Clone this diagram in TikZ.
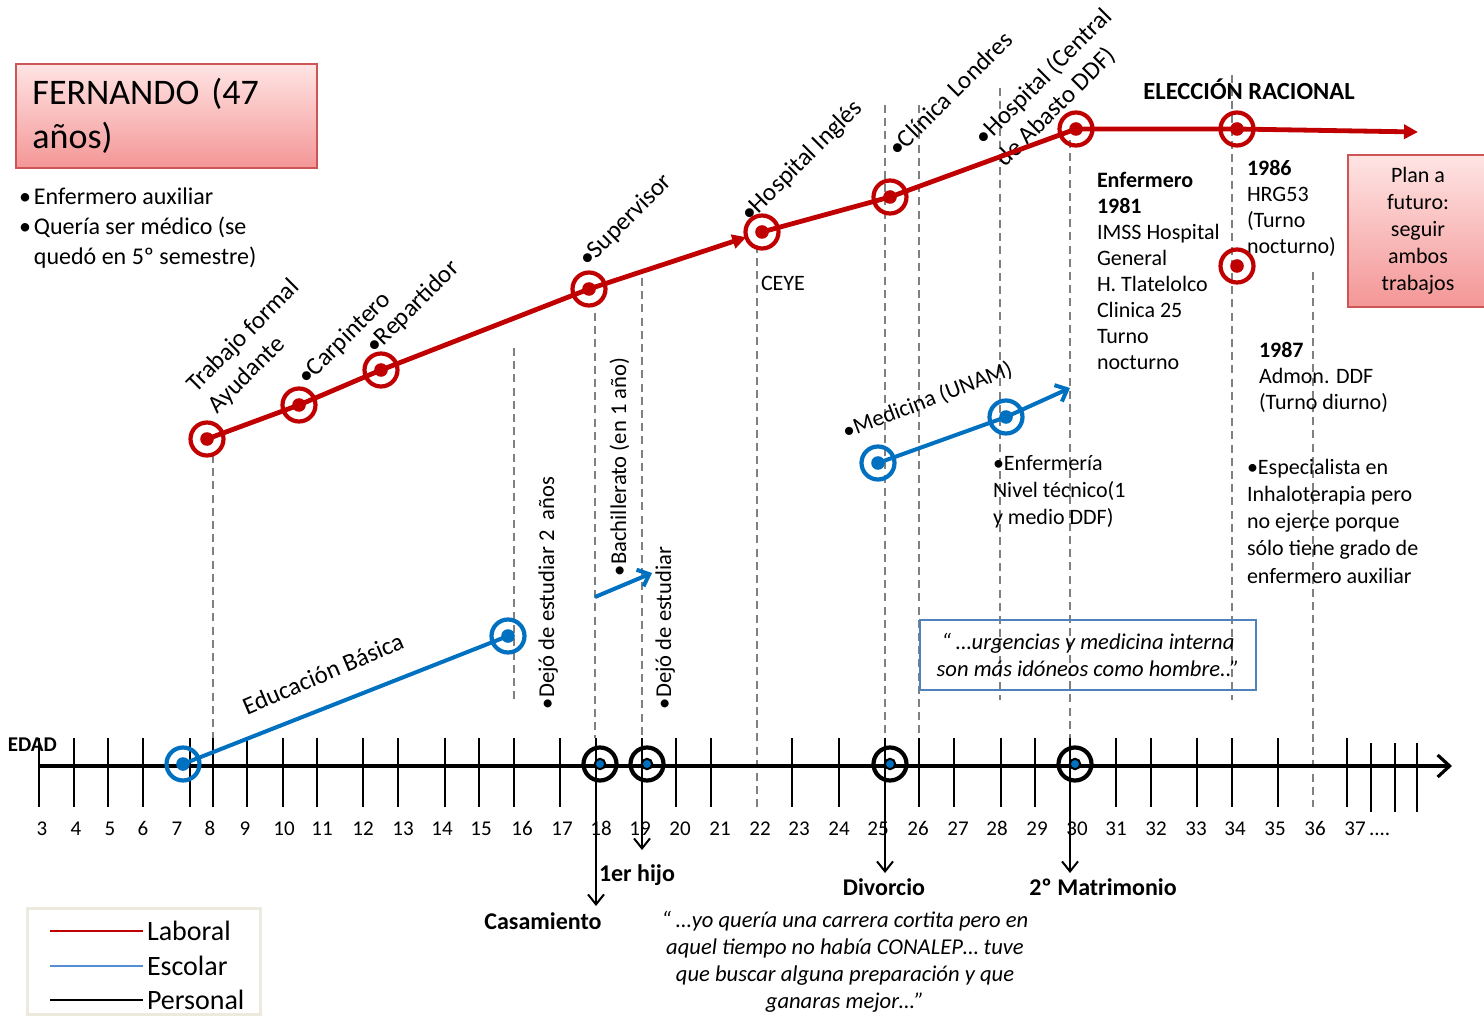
\documentclass[tikz,border=0pt]{standalone}
\usepackage{fontspec}
\setmainfont{Carlito}
\usetikzlibrary{arrows.meta}
\definecolor{lab}{RGB}{192,0,0}
\definecolor{esc}{RGB}{0,112,192}
\definecolor{escleg}{RGB}{85,142,213}
\definecolor{guidegray}{RGB}{128,128,128}
\definecolor{pinktop}{RGB}{255,228,228}
\definecolor{pinkbot}{RGB}{244,150,150}
\definecolor{pinkedge}{RGB}{205,85,85}
\definecolor{quoteedge}{RGB}{79,129,189}
\definecolor{legedge}{RGB}{236,234,222}
\newcommand\fsz[2]{\fontsize{#1}{#2}\selectfont}

\begin{document}
\begin{tikzpicture}[x=0.5pt,y=-0.5pt,
  every node/.style={inner sep=0pt,outer sep=0pt},
  guide/.style={draw=guidegray,line width=0.8pt,dash pattern=on 4pt off 2.6pt},
  tickline/.style={draw=black,line width=1pt},
  ring/.style={circle,line width=2.1pt,minimum size=16.5pt},
  redring/.style={ring,draw=lab,path picture={\fill[lab] (path picture bounding box.center) circle (3.4pt);}},
  bluering/.style={ring,draw=esc,path picture={\fill[esc] (path picture bounding box.center) circle (3.4pt);}},
  persring/.style={ring,draw=black,path picture={\filldraw[fill=esc,draw=black,line width=1pt] (path picture bounding box.center) circle (2.6pt);}},
  redline/.style={draw=lab,line width=2.4pt},
  blueline/.style={draw=esc,line width=2pt},
  redtip/.style={-{Triangle[length=7pt,width=7pt]}},
  bluetip/.style={-{Straight Barb[length=5pt,width=9pt]}},
  downtip/.style={-{Straight Barb[length=5pt,width=8pt]}},
  tlabel/.style={font=\fsz{12.5}{15}},
  vlabel/.style={font=\fsz{11.3}{14},rotate=90,anchor=base west},
  body/.style={font=\fsz{11}{13},align=left},
  boldlab/.style={font=\fsz{12}{14}\bfseries},
  axnum/.style={font=\fsz{10.5}{12},anchor=base},
  pinkbox/.style={draw=pinkedge,line width=0.8pt,top color=pinktop,bottom color=pinkbot},
]
\useasboundingbox (0,0) rectangle (1484,1016);
\fill[white] (0,0) rectangle (1484,1016);

% dashed guide lines
\foreach \gx/\gtop/\gbot in {213/455/738,514/348/700,595/313/738,642/278/738,757/245/807,885/105/738,919/105/738,1000/88/700,1070/140/738,1232/75/700,1313/272/807}
  \draw[guide] (\gx,\gtop) -- (\gx,\gbot);

% age axis
\coordinate (ax0) at (39,766);
\coordinate (ax1) at (1452,766);
\draw[line width=1.6pt,-{Straight Barb[length=6pt,width=11pt]}] (ax0) -- (ax1);
\foreach \tx in {39,74,108,143,190,213,247,283,317,363,398,445,479,514,560,676,711,792,839,919,954,1001,1035,1116,1151,1197,1232,1278,1347}
  \draw[tickline] (\tx,738) -- (\tx,807);
\foreach \tx in {1371,1395,1417}
  \draw[tickline] (\tx,743) -- (\tx,812);
\foreach \n/\xx in {3/42,4/76,5/110,6/143,7/177,8/210,9/245,10/284,11/322,12/363,13/403,14/442,15/481,16/522,17/562,18/601,19/640,20/680,21/720,22/760,23/799,24/839,25/878,26/918,27/958,28/997,29/1037,30/1077,31/1116,32/1156,33/1196,34/1235,35/1275,36/1315,37/1355}
  \node[axnum] (n\n) at (\xx,835) {\n};
\node[font=\fsz{10.5}{12},anchor=base west] (ndots) at (1369,835) {....};
\node[font=\fsz{10.5}{12}\bfseries,anchor=west] (edad) at (8,745) {EDAD};

% personal events
\coordinate (d1a) at (596,738); \coordinate (d1b) at (596,906);
\coordinate (d2a) at (642,738); \coordinate (d2b) at (642,850);
\coordinate (d3a) at (885,738); \coordinate (d3b) at (885,873);
\coordinate (d4a) at (1070,738); \coordinate (d4b) at (1070,873);
\draw[line width=1pt,downtip] (d1a) -- (d1b);
\draw[line width=1pt,downtip] (d2a) -- (d2b);
\draw[line width=1pt,downtip] (d3a) -- (d3b);
\draw[line width=1pt,downtip] (d4a) -- (d4b);
\node[boldlab] (lhijo) at (637,875) {1er hijo};
\node[boldlab] (lcas) at (543,921) {Casamiento};
\node[boldlab] (ldiv) at (884,887) {Divorcio};
\node[boldlab] (lmat) at (1103,887) {2º Matrimonio};
\node[persring] (p1) at (600,764) {};
\node[persring] (p2) at (647,764) {};
\node[persring] (p3) at (890,764) {};
\node[persring] (p4) at (1075,764) {};

% title and summary
\node[pinkbox,anchor=north west,minimum width=150.5pt,minimum height=52pt,text width=134pt,inner xsep=8pt,align=left,font=\fsz{18}{22}] (title) at (16,64) {FERNANDO (47\\años)};
\node[anchor=north west,font=\fsz{12}{15}] (facts) at (19,184) {\begin{tabular}{@{}l@{\hspace{1.5pt}}l@{}}•&Enfermero auxiliar\\•&Quería ser médico (se\\&quedó en 5º semestre)\end{tabular}};

% work labels
\node[tlabel,rotate=45,anchor=west,align=left] (lTrab) at (202,399) {Trabajo formal\\Ayudante};
\node[tlabel,rotate=45,anchor=base west] (lCarp) at (307,386) {•Carpintero};
\node[tlabel,rotate=45,anchor=base west] (lRep) at (375,355) {•Repartidor};
\node[tlabel,rotate=45,anchor=base west] (lSup) at (588,268) {•Supervisor};
\node[tlabel,rotate=45,anchor=base west] (lHing) at (750,223) {•Hospital Inglés};
\node[tlabel,rotate=45,anchor=base west] (lClin) at (898,158) {•Clínica Londres};
\node[tlabel,rotate=45,anchor=west,align=left] (lHcen) at (990,152) {•Hospital (Central\\de Abasto DDF)};
\node[body,anchor=west] (tceye) at (761,283) {CEYE};
\node[font=\fsz{12.3}{14}\bfseries] (elec) at (1249,89) {ELECCIÓN RACIONAL};
\node[body,anchor=north west] (t1981) at (1097,172) {\textbf{Enfermero}\\\textbf{1981}\\IMSS Hospital\\General\\H. Tlatelolco\\Clinica 25\\Turno\\nocturno};
\node[body,anchor=north west] (t1986) at (1247,160) {\textbf{1986}\\HRG53\\(Turno\\nocturno)};
\node[body,anchor=north west] (t1987) at (1259,342) {\textbf{1987}\\Admon. DDF\\(Turno diurno)};
\node[body,font=\fsz{11}{13.6},anchor=north west] (tesp) at (1247,459) {•Especialista en\\Inhaloterapia pero\\no ejerce porque\\sólo tiene grado de\\enfermero auxiliar};
\node[pinkbox,anchor=north west,minimum width=70pt,minimum height=76pt,align=center,font=\fsz{11}{13.5}] (plan) at (1348,155) {Plan a\\futuro:\\seguir\\ambos\\trabajos};

% school labels
\node[tlabel,rotate=23,anchor=base west] (lEdu) at (247,715) {Educación Básica};
\node[vlabel] (lDej1) at (554,709) {•Dejó de estudiar 2\ \ años};
\node[vlabel] (lBach) at (626,576) {•Bachillerato (en 1 año)};
\node[vlabel] (lDej2) at (671,709) {•Dejó de estudiar};
\node[font=\fsz{11.5}{14},rotate=21,anchor=base west] (lMed) at (846,439) {•Medicina (UNAM)};
\node[body,font=\fsz{11}{13.7},anchor=north west] (tenf) at (993,455) {•Enfermería\\Nivel técnico(1\\y medio DDF)};

% quotes
\node[draw=quoteedge,line width=0.9pt,minimum width=168pt,minimum height=35pt,align=center,font=\fsz{11.3}{13.5}\itshape] (q1) at (1088,655) {“ …urgencias y medicina interna\\son más idóneos como hombre..”};
\node[align=center,font=\fsz{11.3}{13.5}\itshape] (q2) at (845,962) {“ …yo quería una carrera cortita pero en\\aquel tiempo no había CONALEP… tuve\\que buscar alguna preparación y que\\ganaras mejor…”};

% work trajectory
\node[redring] (w1) at (207,439) {};
\node[redring] (w2) at (299,405) {};
\node[redring] (w3) at (381,370) {};
\node[redring] (w4) at (589,289) {};
\node[redring] (w5) at (762,232) {};
\node[redring] (w6) at (890,197) {};
\node[redring] (w7) at (1076,129) {};
\node[redring] (w8) at (1237,129) {};
\node[redring] (w9) at (1237,266) {};
\coordinate (wend) at (1418,132);
\draw[redline] (w1.center) -- (w2.center) -- (w3.center) -- (w4.center);
\draw[redline,redtip] (w4.center) -- (w5);
\draw[redline] (w5.center) -- (w6.center) -- (w7.center) -- (w8.center);
\draw[redline,redtip] (w8.center) -- (wend);

% school trajectory
\node[bluering] (s1) at (183,764) {};
\node[bluering] (s2) at (508,636) {};
\node[bluering] (s3) at (878,463) {};
\node[bluering] (s4) at (1006,417) {};
\coordinate (b1) at (595,597);
\coordinate (b2) at (652,573);
\coordinate (mend) at (1070,388);
\draw[blueline] (s1.center) -- (s2.center);
\draw[blueline,bluetip] (b1) -- (b2);
\draw[blueline] (s3.center) -- (s4.center);
\draw[blueline,bluetip] (s4.center) -- (mend);

% legend
\node[draw=legedge,line width=1.5pt,anchor=north west,minimum width=116.5pt,minimum height=53pt] (legend) at (27,908) {};
\coordinate (lg1a) at (50,931); \coordinate (lg1b) at (143,931);
\coordinate (lg2a) at (50,966); \coordinate (lg2b) at (143,966);
\coordinate (lg3a) at (50,1000); \coordinate (lg3b) at (143,1000);
\draw[draw=lab,line width=1.4pt] (lg1a) -- (lg1b);
\draw[draw=escleg,line width=1.4pt] (lg2a) -- (lg2b);
\draw[draw=black,line width=1.4pt] (lg3a) -- (lg3b);
\node[font=\fsz{14}{16},anchor=base west] (lgl) at (147,940) {Laboral};
\node[font=\fsz{14}{16},anchor=base west] (lge) at (147,975) {Escolar};
\node[font=\fsz{14}{16},anchor=base west] (lgp) at (147,1009) {Personal};
\end{tikzpicture}
\end{document}
